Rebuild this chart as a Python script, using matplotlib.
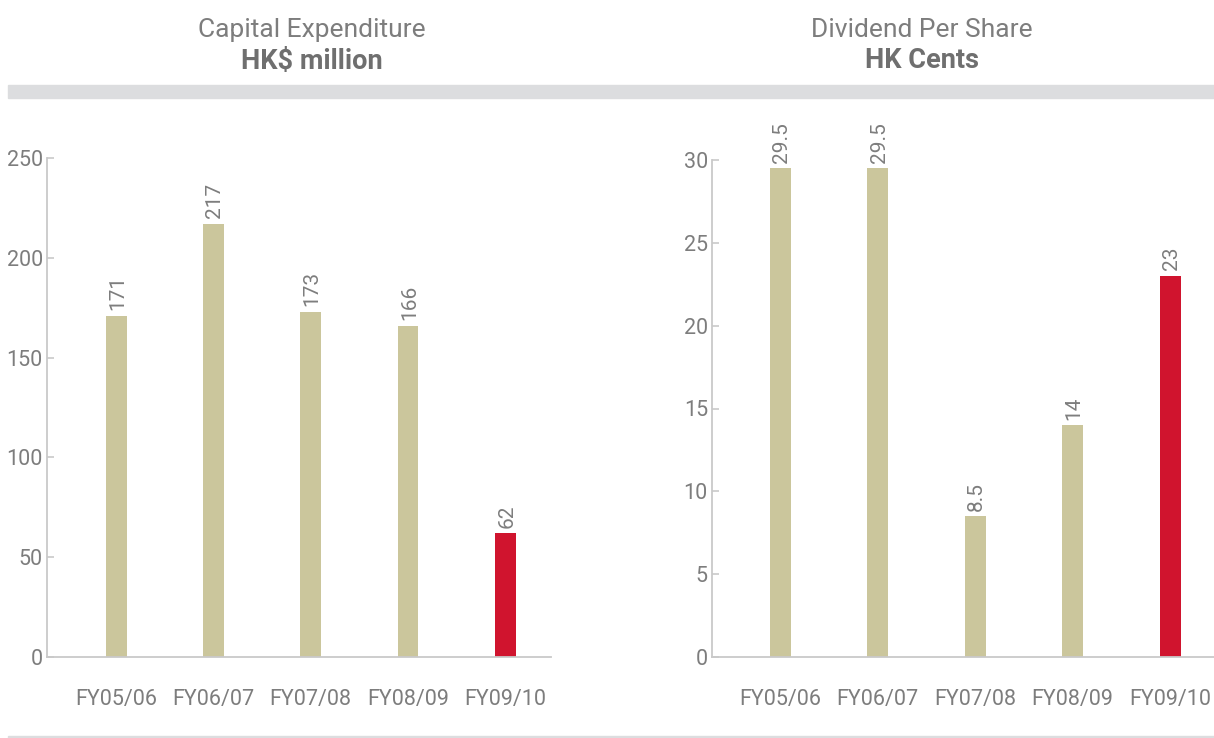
import matplotlib
matplotlib.use("Agg")
import matplotlib.pyplot as plt
from matplotlib.patches import Rectangle

### Data ###
years = ["FY05/06", "FY06/07", "FY07/08", "FY08/09", "FY09/10"]
capex = [171, 217, 173, 166, 62]
capex_labels = ["171", "217", "173", "166", "62"]
dps = [29.5, 29.5, 8.5, 14, 23]
dps_labels = ["29.5", "29.5", "8.5", "14", "23"]

### Style ###
BEIGE = "#cbc69c"
RED = "#d0142e"
TXT = "#7d7d7d"
AXC = "#c9c9c9"
BAND = "#dcdddf"
WT = "normal"

plt.rcParams["font.family"] = ["Roboto", "DejaVu Sans"]

W, H = 1214, 738
fig = plt.figure(figsize=(W / 100, H / 100), dpi=100)


def px_axes(x0, y0, x1, y1):
    # pixel box (top-left origin) -> figure fraction
    return fig.add_axes([x0 / W, 1 - y1 / H, (x1 - x0) / W, (y1 - y0) / H])


def bar_panel(ax, values, labels, ymax, step, xlim):
    colors = [BEIGE] * (len(values) - 1) + [RED]
    x = range(len(values))
    ax.bar(x, values, width=0.215, color=colors, zorder=2)
    for xi, v, lab in zip(x, values, labels):
        ax.annotate(lab, (xi, v), xytext=(1, 4), textcoords="offset points",
                    rotation=90, ha="center", va="bottom", fontsize=15,
                    color=TXT, fontweight=WT, annotation_clip=False)
    ax.set_xlim(*xlim)
    ax.set_ylim(0, ymax)
    ax.set_yticks(range(0, ymax + 1, step))
    ax.set_xticks(list(x))
    ax.set_xticklabels(years)
    for s in ["top", "right"]:
        ax.spines[s].set_visible(False)
    for s in ["left", "bottom"]:
        ax.spines[s].set_color(AXC)
        ax.spines[s].set_linewidth(1.3)
    ax.tick_params(axis="y", direction="in", length=5, width=1.2, color=AXC,
                   labelsize=15.5, labelcolor=TXT, pad=3)
    ax.tick_params(axis="x", length=0, labelsize=15.5, labelcolor=TXT, pad=23)
    for t in ax.get_xticklabels() + ax.get_yticklabels():
        t.set_fontweight(WT)
    ax.set_facecolor("none")


ax1 = px_axes(47, 158, 551, 657)
bar_panel(ax1, capex, capex_labels, 250, 50, (-0.71, 4.47))

ax2 = px_axes(712, 160, 1214, 657)
bar_panel(ax2, dps, dps_labels, 30, 5, (-0.70, 4.45))

### Titles ###
fig.text(312 / W, 1 - 30 / H, "Capital Expenditure", ha="center", va="center",
         fontsize=19, color=TXT, fontweight=WT)
fig.text(312 / W, 1 - 61 / H, "HK$ million", ha="center", va="center",
         fontsize=19.5, color="#6f6f6f", fontweight="bold")
fig.text(922 / W, 1 - 30 / H, "Dividend Per Share", ha="center", va="center",
         fontsize=19, color=TXT, fontweight=WT)
fig.text(922 / W, 1 - 61 / H, "HK Cents", ha="center", va="center",
         fontsize=19.5, color="#6f6f6f", fontweight="bold")

### Grey band and bottom rule ###
fig.patches.append(Rectangle((8 / W, 1 - 98 / H), 1 - 8 / W, 13 / H,
                             transform=fig.transFigure, color=BAND, zorder=0))
fig.patches.append(Rectangle((8 / W, 0), 1 - 8 / W, 2 / H,
                             transform=fig.transFigure, color=BAND, zorder=0))

fig.savefig("out.png", dpi=100)
